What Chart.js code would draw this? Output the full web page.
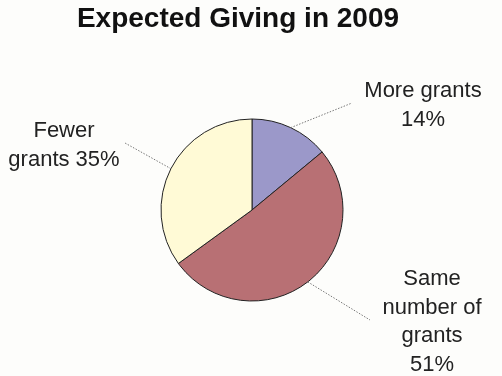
<!DOCTYPE html>
<html>
<head>
<meta charset="utf-8">
<script src="https://cdn.jsdelivr.net/npm/chart.js@4"></script>
<style>
html,body{margin:0;padding:0;background:#fdfdfb;}
#wrap{width:502px;height:376px;position:relative;}
</style>
</head>
<body>
<div id="wrap"><canvas id="c" width="502" height="376"></canvas></div>
<script>
const title = "Expected Giving in 2009";
const categories = ["More grants", "Same number of grants", "Fewer grants"];
const values = [14, 51, 35];
const colors = ["#9b98c9", "#b87074", "#fffad6"];
const labelLines = [
  ["More grants", values[0] + "%"],
  ["Same", "number of", "grants", values[1] + "%"],
  ["Fewer", "grants " + values[2] + "%"]
];

const calloutPlugin = {
  id: 'callouts',
  afterDatasetsDraw(chart, args, opts) {
    const ctx = chart.ctx;
    const meta = chart.getDatasetMeta(0);
    ctx.save();
    meta.data.forEach((arc, i) => {
      const p = arc.getProps(['x','y','startAngle','endAngle','outerRadius'], true);
      const mid = (p.startAngle + p.endAngle) / 2;
      const sx = p.x + Math.cos(mid) * p.outerRadius;
      const sy = p.y + Math.sin(mid) * p.outerRadius;
      const cfg = opts.items[i];
      ctx.strokeStyle = '#777';
      ctx.lineWidth = 1;
      ctx.setLineDash([1.5, 1.5]);
      ctx.beginPath();
      ctx.moveTo(sx, sy);
      ctx.lineTo(p.x + cfg.lx, p.y + cfg.ly);
      ctx.stroke();
      ctx.setLineDash([]);
      ctx.fillStyle = '#222';
      ctx.font = '22px "Liberation Sans", Arial, sans-serif';
      ctx.textAlign = 'center';
      ctx.textBaseline = 'alphabetic';
      labelLines[i].forEach((t, k) => {
        ctx.fillText(t, p.x + cfg.tx, p.y + cfg.ty + k * cfg.lh);
      });
    });
    ctx.fillStyle = '#111';
    ctx.font = 'bold 28px "Liberation Sans", Arial, sans-serif';
    ctx.textAlign = 'center';
    ctx.textBaseline = 'alphabetic';
    ctx.fillText(title, opts.titleX, opts.titleY);
    ctx.restore();
  }
};

new Chart(document.getElementById('c'), {
  type: 'pie',
  data: {
    labels: categories,
    datasets: [{
      data: values,
      backgroundColor: colors,
      borderColor: '#222',
      borderWidth: 1,
      radius: 91
    }]
  },
  options: {
    responsive: false,
    animation: false,
    layout: { padding: { left: 152, right: 150, top: 110, bottom: 66 } },
    plugins: {
      legend: { display: false },
      tooltip: { enabled: false },
      title: { display: false },
      callouts: {
        titleX: 238, titleY: 27,
        items: [
          { lx: 100, ly: -107, tx: 171, ty: -113, lh: 29 },
          { lx: 118, ly: 110, tx: 180, ty: 75, lh: 28.5 },
          { lx: -127, ly: -67, tx: -188, ty: -73, lh: 29 }
        ]
      }
    }
  },
  plugins: [calloutPlugin]
});
</script>
</body>
</html>
